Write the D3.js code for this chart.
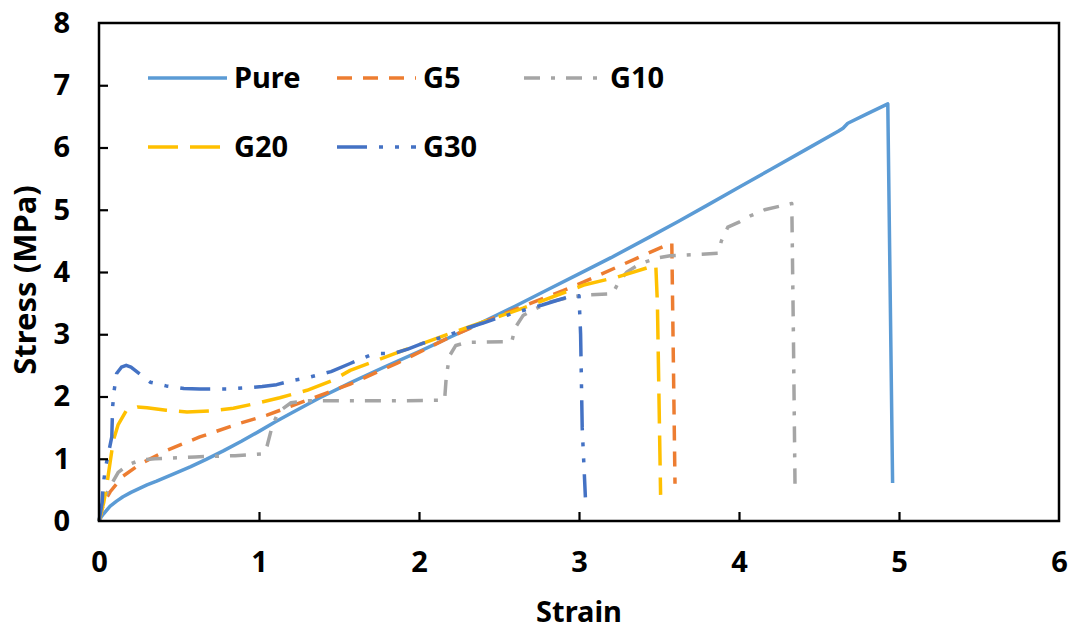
<!DOCTYPE html>
<html>
<head>
<meta charset="utf-8">
<script src="https://cdn.jsdelivr.net/npm/d3@7"></script>
<style>
  html, body { margin: 0; padding: 0; background: #fff; }
  svg { display: block; }
  text { font-family: "Noto Sans", "Open Sans", sans-serif; font-weight: 700; fill: #000; }
</style>
</head>
<body>
<svg id="chart" width="1069" height="630"></svg>
<script>
// Stress-strain curves, strain [-] vs stress [MPa]
const pure = [[0,0],[0.015,0.07],[0.03,0.12],[0.07,0.24],[0.11,0.32],[0.15,0.39],[0.2,0.46],[0.25,0.52],[0.3,0.58],[0.36,0.64],[0.46,0.75],[0.57,0.87],[0.67,0.99],[0.78,1.13],[0.89,1.28],[1.0,1.44],[1.1,1.59],[1.2,1.73],[1.38,1.98],[1.57,2.22],[1.78,2.47],[2.0,2.72],[2.2,2.96],[2.4,3.2],[2.6,3.45],[2.8,3.71],[3.0,3.97],[3.2,4.23],[3.44,4.56],[3.62,4.81],[3.8,5.07],[4.0,5.36],[4.2,5.65],[4.42,5.97],[4.62,6.26],[4.65,6.31],[4.68,6.39],[4.8,6.54],[4.93,6.70],[4.96,0.61]];
const g5 = [[0,0],[0.02,0.2],[0.04,0.34],[0.07,0.47],[0.15,0.72],[0.26,0.92],[0.42,1.13],[0.63,1.35],[0.88,1.57],[1.05,1.7],[1.3,1.94],[1.57,2.2],[1.86,2.53],[2.19,2.95],[2.5,3.3],[2.9,3.7],[3.03,3.84],[3.36,4.22],[3.58,4.47],[3.6,0.6]];
const g10 = [[0,0],[0.02,0.25],[0.05,0.45],[0.08,0.6],[0.12,0.78],[0.18,0.9],[0.26,0.98],[0.35,1.0],[0.6,1.03],[0.85,1.05],[1.03,1.08],[1.05,1.2],[1.08,1.5],[1.12,1.75],[1.2,1.9],[1.3,1.93],[1.8,1.93],[2.16,1.94],[2.17,2.3],[2.19,2.65],[2.23,2.82],[2.3,2.87],[2.58,2.88],[2.6,3.1],[2.65,3.3],[2.72,3.4],[2.82,3.52],[2.95,3.6],[3.05,3.63],[3.21,3.65],[3.25,3.85],[3.3,4.0],[3.38,4.13],[3.48,4.22],[3.57,4.26],[3.87,4.3],[3.89,4.5],[3.93,4.72],[4.0,4.8],[4.07,4.9],[4.16,5.0],[4.26,5.06],[4.33,5.1],[4.34,3.0],[4.35,0.6]];
const g20 = [[0,0],[0.03,0.3],[0.05,0.6],[0.07,0.95],[0.09,1.3],[0.12,1.55],[0.17,1.77],[0.24,1.83],[0.3,1.82],[0.42,1.78],[0.55,1.75],[0.7,1.77],[0.84,1.81],[1.0,1.9],[1.13,1.98],[1.3,2.1],[1.46,2.26],[1.57,2.42],[1.86,2.7],[2.19,3.01],[2.65,3.42],[3.03,3.79],[3.24,3.92],[3.48,4.11],[3.49,3.5],[3.51,0.42]];
const g30 = [[0,0],[0.02,0.3],[0.025,0.55],[0.04,0.85],[0.08,1.35],[0.085,1.83],[0.095,2.1],[0.11,2.37],[0.14,2.47],[0.17,2.5],[0.2,2.47],[0.26,2.35],[0.32,2.23],[0.42,2.17],[0.53,2.13],[0.63,2.12],[0.8,2.12],[0.92,2.14],[1.02,2.16],[1.11,2.19],[1.2,2.25],[1.3,2.3],[1.45,2.4],[1.57,2.53],[1.7,2.67],[1.75,2.69],[1.84,2.69],[1.93,2.76],[2.03,2.86],[2.19,2.99],[2.3,3.1],[2.4,3.18],[2.49,3.26],[2.66,3.39],[2.77,3.47],[2.87,3.55],[2.96,3.62],[3.0,3.62],[3.01,3.0],[3.02,1.5],[3.04,0.38]];

const seriesNames = ["Pure", "G5", "G10", "G20", "G30"];
const xTicks = [0, 1, 2, 3, 4, 5, 6];
const yTicks = [0, 1, 2, 3, 4, 5, 6, 7, 8];

const series = [
  { name: "Pure", data: pure, color: "#5B9BD5", dash: null },
  { name: "G5",   data: g5,   color: "#ED7D31", dash: "15,11" },
  { name: "G10",  data: g10,  color: "#A5A5A5", dash: "16,11,4,11" },
  { name: "G20",  data: g20,  color: "#FFC000", dash: "30,12" },
  { name: "G30",  data: g30,  color: "#4472C4", dash: "30,12,4,12,4,12" }
];

const svg = d3.select("#chart");
const plot = { left: 99, right: 1059, top: 23, bottom: 521 };

const x = d3.scaleLinear().domain([0, 6]).range([plot.left, plot.right]);
const y = d3.scaleLinear().domain([0, 8]).range([plot.bottom, plot.top]);

// curves
const line = d3.line().x(d => x(d[0])).y(d => y(d[1])).curve(d3.curveLinear);
const gLines = svg.append("g");
series.forEach(s => {
  gLines.append("path")
    .attr("d", line(s.data))
    .attr("fill", "none")
    .attr("stroke", s.color)
    .attr("stroke-width", 3.5)
    .attr("stroke-linejoin", "round")
    .attr("stroke-dasharray", s.dash);
});

// frame with inward ticks
const fs = 29;
const xAxis = d3.axisBottom(x).tickValues(xTicks).tickFormat(d3.format("d"))
  .tickSizeInner(-9).tickSizeOuter(0).tickPadding(30);
const yAxis = d3.axisLeft(y).tickValues(yTicks).tickFormat(d3.format("d"))
  .tickSizeInner(-9).tickSizeOuter(0).tickPadding(29);

const gx = svg.append("g").attr("transform", `translate(0,${plot.bottom})`).call(xAxis);
const gy = svg.append("g").attr("transform", `translate(${plot.left},0)`).call(yAxis);
[gx, gy].forEach(g => {
  g.select(".domain").remove();
  g.selectAll(".tick line").attr("stroke", "#000").attr("stroke-width", 2.2);
  g.selectAll(".tick text").attr("font-size", fs).attr("font-family", null).attr("fill", "#000");
});
gx.selectAll(".tick line").filter(d => d === 0 || d === 6).remove();
gy.selectAll(".tick line").filter(d => d === 0 || d === 8).remove();

svg.append("rect")
  .attr("x", plot.left).attr("y", plot.top)
  .attr("width", plot.right - plot.left).attr("height", plot.bottom - plot.top)
  .attr("fill", "none").attr("stroke", "#000").attr("stroke-width", 2.5);

// axis titles
svg.append("text")
  .attr("x", (plot.left + plot.right) / 2).attr("y", 622)
  .attr("text-anchor", "middle").attr("font-size", fs)
  .text("Strain");
svg.append("text")
  .attr("transform", `translate(36,${(plot.top + plot.bottom) / 2 + 8}) rotate(-90)`)
  .attr("text-anchor", "middle").attr("font-size", 31)
  .text("Stress (MPa)");

// legend
const legendPos = [
  { lx: 148, ly: 78 }, { lx: 337, ly: 78 }, { lx: 524, ly: 78 },
  { lx: 148, ly: 147 }, { lx: 337, ly: 147 }
];
const gLeg = svg.append("g");
series.forEach((s, i) => {
  const p = legendPos[i];
  gLeg.append("line")
    .attr("x1", p.lx).attr("x2", p.lx + 79)
    .attr("y1", p.ly).attr("y2", p.ly)
    .attr("stroke", s.color).attr("stroke-width", 3.5)
    .attr("stroke-dasharray", s.dash);
  gLeg.append("text")
    .attr("x", p.lx + 86).attr("y", p.ly + 10)
    .attr("font-size", fs)
    .text(seriesNames[i]);
});
</script>
</body>
</html>
